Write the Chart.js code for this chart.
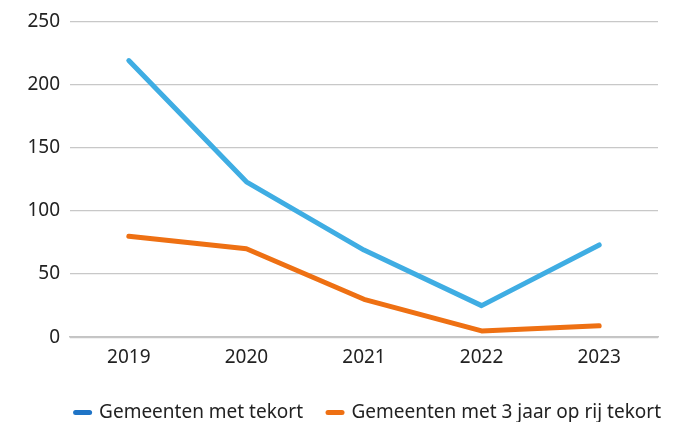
<!DOCTYPE html>
<html>
<head>
<meta charset="utf-8">
<script src="https://cdn.jsdelivr.net/npm/chart.js@4"></script>
<style>
  html, body { margin: 0; padding: 0; background: #fff; }
</style>
</head>
<body>
<canvas id="myChart" width="686" height="422"></canvas>
<script>
const jaren = ['2019', '2020', '2021', '2022', '2023'];
const metTekort = [219, 123, 69, 25, 73];
const drieJaarTekort = [80, 70, 30, 5, 9];
const yTicks = [0, 50, 100, 150, 200, 250];

const ctx = document.getElementById('myChart').getContext('2d');
const myChart = new Chart(ctx, {
    type: 'line',
    data: {
        labels: jaren,
        datasets: [{
            label: 'Gemeenten met tekort',
            data: metTekort,
            borderColor: '#3fade3',
            backgroundColor: '#3fade3',
            legendColor: '#1f74c6',
            borderWidth: 5,
            borderCapStyle: 'round',
            borderJoinStyle: 'round',
            pointRadius: 0,
            tension: 0
        }, {
            label: 'Gemeenten met 3 jaar op rij tekort',
            data: drieJaarTekort,
            borderColor: '#ee7013',
            backgroundColor: '#ee7013',
            legendColor: '#ee7013',
            borderWidth: 5,
            borderCapStyle: 'round',
            borderJoinStyle: 'round',
            pointRadius: 0,
            tension: 0
        }]
    },
    options: {
        responsive: false,
        animation: false,
        layout: { padding: { left: 0, right: 0, top: 14, bottom: -10 } },
        plugins: {
            tooltip: { enabled: false },
            legend: {
                position: 'bottom',
                align: 'end',
                labels: {
                    usePointStyle: true,
                    pointStyle: 'line',
                    pointStyleWidth: 14,
                    boxHeight: 10,
                    padding: 25,
                    color: '#222',
                    font: { family: 'Noto Sans', size: 19 },
                    generateLabels: (chart) => chart.data.datasets.map((ds, i) => ({
                        text: ds.label,
                        fillStyle: ds.legendColor,
                        strokeStyle: ds.legendColor,
                        lineWidth: 5,
                        lineCap: 'round',
                        pointStyle: 'line',
                        fontColor: '#222',
                        hidden: false,
                        datasetIndex: i
                    }))
                }
            }
        },
        scales: {
            x: {
                offset: true,
                grid: { display: false, drawTicks: false },
                border: { color: '#c4c4c4', width: 1.5 },
                ticks: { color: '#222', padding: 9, font: { family: 'Noto Sans', size: 19 } }
            },
            y: {
                min: 0,
                max: 250,
                afterBuildTicks: (axis) => { axis.ticks = yTicks.map(v => ({ value: v })); },
                afterFit: (axis) => { axis.width = 70; },
                grid: { color: '#c8c8c8', lineWidth: 1.2, drawTicks: false },
                border: { display: false },
                ticks: { color: '#222', padding: 10, font: { family: 'Noto Sans', size: 19 } }
            },
            rechts: {
                position: 'right',
                grid: { display: false, drawTicks: false },
                border: { display: false },
                ticks: { display: false },
                afterFit: (axis) => { axis.width = 28; }
            }
        }
    }
});
</script>
</body>
</html>
